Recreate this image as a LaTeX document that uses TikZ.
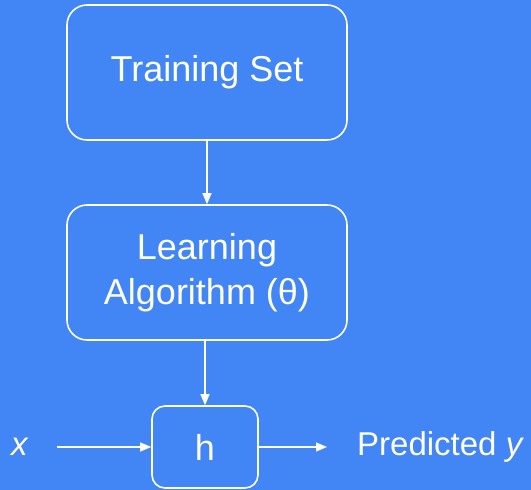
\documentclass[tikz,border=0pt]{standalone}
\usepackage{fontspec}
\setmainfont{Liberation Sans}
\usetikzlibrary{arrows.meta}
\definecolor{bg}{HTML}{4285F4}
\begin{document}
\begin{tikzpicture}[x=1pt,y=1pt,
  box/.style={draw=white,line width=1.6pt,rounded corners=20pt,text=white,align=center,inner sep=0pt,font=\fontsize{36}{46}\selectfont},
  conn/.style={draw=white,line width=1.4pt,-{Triangle[length=11pt,width=9pt]}},
  lbl/.style={text=white,font=\fontsize{33}{38}\selectfont,inner sep=0pt}]
\fill[bg] (0,0) rectangle (531,490);
\useasboundingbox (0,0) rectangle (531,490);
\node[box,minimum width=280pt,minimum height=135pt] (ts) at (207,417.5) {\raisebox{-5pt}{Training Set}};
\node[box,minimum width=280pt,minimum height=135pt] (la) at (207,217.5) {\raisebox{-5pt}{\begin{tabular}{@{}c@{}}Learning\\[-1pt]Algorithm (θ)\end{tabular}}};
\node[box,minimum width=106pt,minimum height=82pt,rounded corners=13pt] (h) at (205,43) {h};
\node[lbl,anchor=west] (x) at (11,43) {\itshape x};
\node[lbl,anchor=west] (py) at (357,43) {Predicted \itshape y};
\coordinate (xs) at (57,43);
\coordinate (pe) at (327,43);
\draw[conn] (ts.south) -- (la.north);
\draw[conn] (la.south -| h.north) -- (h.north);
\draw[conn] (xs) -- (h.west);
\draw[conn] (h.east) -- (pe);
\end{tikzpicture}
\end{document}
